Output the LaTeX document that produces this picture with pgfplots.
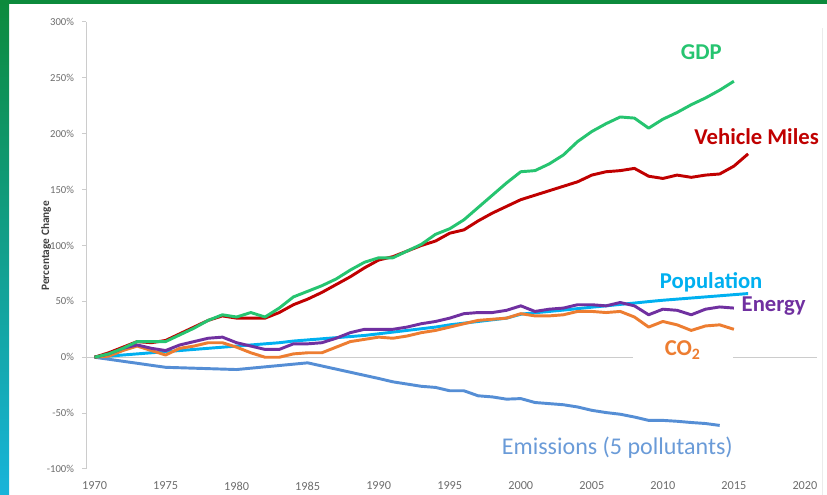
\documentclass[border=0pt]{standalone}
\usepackage{pgfplots}
\pgfplotsset{compat=1.18}
\usepackage{fontspec}
\setmainfont{Carlito}
\definecolor{gdp}{RGB}{38,196,112}
\definecolor{vm}{RGB}{192,0,0}
\definecolor{pop}{RGB}{0,176,240}
\definecolor{energy}{RGB}{112,48,160}
\definecolor{co2}{RGB}{237,125,49}
\definecolor{emis}{RGB}{85,142,213}
\definecolor{emistext}{RGB}{106,155,216}
\definecolor{framegreen}{RGB}{12,138,60}
\definecolor{framecyan}{RGB}{24,180,218}
\definecolor{ticktext}{RGB}{110,110,110}
\begin{document}
\begin{tikzpicture}
\useasboundingbox (0,0) rectangle (620.25pt,371.25pt);
\fill[white] (0,0) rectangle (620.25pt,371.25pt);
\shade[top color=framegreen, bottom color=framecyan] (0,0) rectangle (6.75pt,371.25pt);
\fill[framegreen] (0,368.25pt) rectangle (620.25pt,371.25pt);
\draw[black!8, line width=0.75pt] (617pt,0) -- (617pt,350pt);
\node[rotate=90, font=\fontsize{8.5}{10}\selectfont\bfseries, text=black!75] at (34.5pt,186.75pt) {Percentage Change};
\begin{axis}[
  at={(64.5pt,19.5pt)}, anchor=south west, scale only axis,
  width=548.25pt, height=335.25pt,
  xmin=1969.4, xmax=2020.85, ymin=-100, ymax=300,
  clip=false,
  axis x line*=bottom, axis y line*=left,
  x axis line style={draw=none},
  y axis line style={draw=black!20, line width=0.75pt},
  xtick={1970,1975,...,2020},
  xticklabels={1970,1975,1980,1985,1990,1995,2000,2005,2010,2015,2020},
  ytick={-100,-50,...,300},
  yticklabels={-100\%,-50\%,0\%,50\%,100\%,150\%,200\%,250\%,300\%},
  x tick style={draw=none},
  y tick style={draw=black!20, line width=0.75pt},
  tick align=outside, major tick length=3pt,
  xticklabel style={font=\fontsize{9.2}{11}\selectfont, text=ticktext, yshift=-3pt},
  yticklabel style={font=\fontsize{8}{10}\selectfont, text=ticktext, xshift=-2.5pt},
  every axis plot/.append style={line width=2.2pt, no markers, line join=round},
]
\draw[black!20, line width=0.75pt] (axis cs:1969.4,0) -- (axis cs:2020.85,0);
% Emissions (5 pollutants)
\addplot[emis] table {
x y
1970 0
1975 -9
1980 -11
1985 -5
1990 -19
1991 -22
1992 -24
1993 -26
1994 -27
1995 -30
1996 -30
1997 -34.5
1998 -35.5
1999 -37.5
2000 -37
2001 -40.5
2002 -41.5
2003 -42.5
2004 -44.5
2005 -47.5
2006 -49.5
2007 -51
2008 -53.5
2009 -56.5
2010 -56.5
2011 -57.3
2012 -58.4
2013 -59.3
2014 -61
};
% Population
\addplot[pop] table {
x y
1970 0
1971 1
1972 2
1973 3
1974 4
1975 5
1976 6
1977 7
1978 8
1979 9
1980 10
1981 11
1982 12
1983 13
1984 14.5
1985 15.5
1986 16.5
1987 17.5
1988 18.5
1989 19.5
1990 21
1991 22.5
1992 24
1993 25.5
1994 27
1995 29
1996 30.5
1997 32
1998 33.5
1999 35
2000 38.5
2001 39.8
2002 41
2003 42.2
2004 43.5
2005 44.8
2006 46
2007 47.3
2008 48.5
2009 49.8
2010 51
2011 52
2012 53
2013 54
2014 55
2015 56
2016 57
};
% CO2
\addplot[co2] table {
x y
1970 0
1971 1
1972 6
1973 10
1974 6
1975 2
1976 8
1977 10
1978 13
1979 13
1980 9
1981 4
1982 0
1983 0
1984 3
1985 4
1986 4
1987 9
1988 14
1989 16
1990 18
1991 17
1992 19
1993 22
1994 24
1995 27
1996 30
1997 33
1998 34
1999 35
2000 39
2001 37
2002 37
2003 38
2004 41
2005 41
2006 40
2007 41
2008 36
2009 27
2010 32
2011 29
2012 24
2013 28
2014 29
2015 25
};
% Energy
\addplot[energy] table {
x y
1970 0
1971 3
1972 8
1973 11
1974 8
1975 6
1976 11
1977 14
1978 17
1979 18
1980 13
1981 10
1982 7
1983 7
1984 12
1985 12
1986 13
1987 17
1988 22
1989 25
1990 25
1991 25
1992 27
1993 30
1994 32
1995 35
1996 39
1997 40
1998 40
1999 42
2000 46
2001 41
2002 43
2003 44
2004 47
2005 47
2006 46
2007 49
2008 46
2009 38
2010 43
2011 42
2012 38
2013 43
2014 45
2015 44
};
% Vehicle Miles
\addplot[vm] table {
x y
1970 0
1971 4
1972 9
1973 14
1974 13
1975 15
1976 21
1977 27
1978 33
1979 37
1980 35
1981 35
1982 35
1983 40
1984 47
1985 52
1986 58
1987 65
1988 72
1989 80
1990 87
1991 90
1992 95
1993 100
1994 104
1995 111
1996 114
1997 122
1998 129
1999 135
2000 141
2001 145
2002 149
2003 153
2004 157
2005 163
2006 166
2007 167
2008 169
2009 162
2010 160
2011 163
2012 161
2013 163
2014 164
2015 171
2016 182
};
% GDP
\addplot[gdp] table {
x y
1970 0
1971 3
1972 8
1973 14
1974 14
1975 14
1976 20
1977 26
1978 33
1979 38
1980 36
1981 40
1982 36
1983 44
1984 54
1985 59
1986 64
1987 70
1988 78
1989 85
1990 89
1991 89
1992 95
1993 101
1994 110
1995 115
1996 123
1997 134
1998 145
1999 156
2000 166
2001 167
2002 173
2003 181
2004 193
2005 202
2006 209
2007 215
2008 214
2009 205
2010 213
2011 219
2012 226
2013 232
2014 239
2015 247
};
\node[font=\fontsize{17}{20}\selectfont\bfseries, text=gdp] at (axis cs:2012.7,272.9) {GDP};
\node[font=\fontsize{17}{20}\selectfont\bfseries, text=vm] at (axis cs:2016.6,197.8) {Vehicle Miles};
\node[font=\fontsize{17}{20}\selectfont\bfseries, text=pop] at (axis cs:2013.4,67.1) {Population};
\node[font=\fontsize{17}{20}\selectfont\bfseries, text=energy] at (axis cs:2017.8,45.6) {Energy};
\node[font=\fontsize{17}{20}\selectfont\bfseries, text=co2, fill=white, minimum width=75pt] at (axis cs:2011.4,6.3) {CO\textsubscript{2}};
\node[font=\fontsize{18}{21}\selectfont, text=emistext] at (axis cs:2006.8,-80.5) {Emissions (5 pollutants)};
\end{axis}
\end{tikzpicture}
\end{document}
